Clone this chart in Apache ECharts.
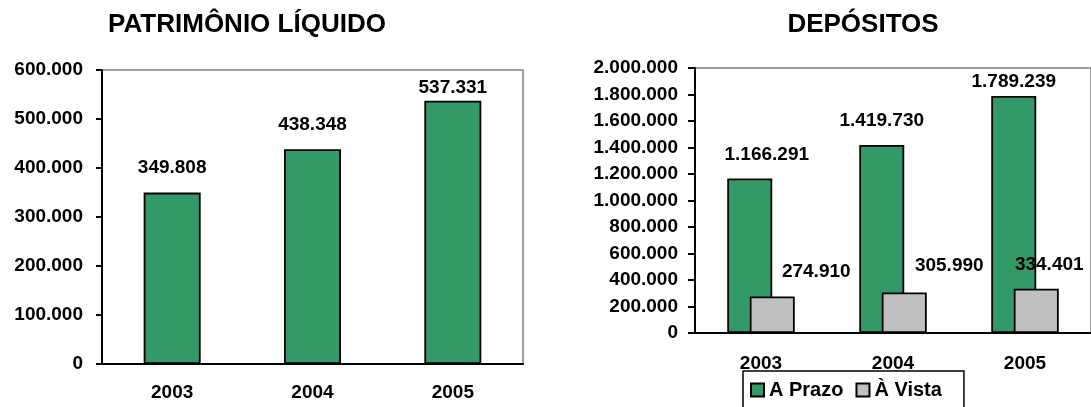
<!DOCTYPE html>
<html>
<head>
<meta charset="utf-8">
<script src="https://cdn.jsdelivr.net/npm/echarts@6/dist/echarts.min.js"></script>
<style>
html,body{margin:0;padding:0;background:#fff;}
#chart{width:1091px;height:407px;}
</style>
</head>
<body>
<div id="chart"></div>
<script>
// ---- data ----
const years = ['2003', '2004', '2005'];
const patrimonio = [349808, 438348, 537331];
const aPrazo = [1166291, 1419730, 1789239];
const aVista = [274910, 305990, 334401];
const seriesNames = ['A Prazo', 'À Vista'];
const titles = ['PATRIMÔNIO LÍQUIDO', 'DEPÓSITOS'];

// ---- label placement (layout only) ----
const patDist = [15, 15, 3];
const prazoDist = [14, 15, 5];
const prazoDx = [17, 0, 0];
const vistaDist = [15, 17, 14];
const vistaDx = [44, 45, 13];

const FONT = 'Liberation Sans';
function fmt(v) {
  return String(Math.round(v)).replace(/\B(?=(\d{3})+(?!\d))/g, '.');
}
function withLabels(vals, dist, dx) {
  return vals.map((v, i) => ({
    value: v,
    label: { distance: dist[i], offset: [dx ? dx[i] : 0, 0] }
  }));
}
const labelBase = {
  show: true, position: 'top', color: '#000',
  fontFamily: FONT, fontWeight: 'bold', fontSize: 19,
  formatter: p => fmt(p.value)
};
const axisText = { color: '#000', fontFamily: FONT, fontWeight: 'bold', fontSize: 19 };
const blackLine = { color: '#000', width: 2 };

const chart = echarts.init(document.getElementById('chart'));
chart.setOption({
  animation: false,
  backgroundColor: '#fff',
  title: [
    { text: titles[0], left: 247, top: 12, padding: 0, textAlign: 'center',
      textStyle: { fontFamily: FONT, fontWeight: 'bold', fontSize: 26, color: '#000' } },
    { text: titles[1], left: 863, top: 12, padding: 0, textAlign: 'center',
      textStyle: { fontFamily: FONT, fontWeight: 'bold', fontSize: 26, color: '#000' } }
  ],
  legend: {
    data: seriesNames,
    left: 743, top: 371,
    orient: 'horizontal',
    icon: 'rect', itemWidth: 13, itemHeight: 13, itemGap: 12,
    borderColor: '#000', borderWidth: 1.5,
    padding: [9, 22, 30, 7],
    backgroundColor: '#fff',
    textStyle: { color: '#000', fontFamily: FONT, fontWeight: 'bold', fontSize: 20 }
  },
  grid: [
    { left: 102, top: 70, width: 421, height: 294, show: true,
      borderColor: '#808080', borderWidth: 1.5, backgroundColor: 'transparent' },
    { left: 695, top: 68, width: 402, height: 265, show: true,
      borderColor: '#808080', borderWidth: 1.5, backgroundColor: 'transparent' }
  ],
  xAxis: [
    { type: 'category', gridIndex: 0, data: years, boundaryGap: true,
      axisLine: { lineStyle: blackLine },
      axisTick: { length: 7, lineStyle: blackLine },
      axisLabel: Object.assign({ margin: 19 }, axisText) },
    { type: 'category', gridIndex: 1, data: years, boundaryGap: true,
      axisLine: { lineStyle: blackLine },
      axisTick: { length: 7, lineStyle: blackLine },
      axisLabel: Object.assign({ margin: 21 }, axisText) }
  ],
  yAxis: [
    { type: 'value', gridIndex: 0, min: 0, max: 600000, interval: 100000,
      splitLine: { show: false },
      axisLine: { show: true, lineStyle: blackLine },
      axisTick: { show: true, length: 6, lineStyle: blackLine },
      axisLabel: Object.assign({ margin: 19, formatter: fmt }, axisText) },
    { type: 'value', gridIndex: 1, min: 0, max: 2000000, interval: 200000,
      splitLine: { show: false },
      axisLine: { show: true, lineStyle: blackLine },
      axisTick: { show: true, length: 7, lineStyle: blackLine },
      axisLabel: Object.assign({ margin: 17, formatter: fmt }, axisText) }
  ],
  series: [
    { type: 'bar', name: 'Patrimônio Líquido', xAxisIndex: 0, yAxisIndex: 0,
      barWidth: 57,
      itemStyle: { color: '#339966', borderColor: '#000', borderWidth: 1.8 },
      label: labelBase,
      data: withLabels(patrimonio, patDist) },
    { type: 'bar', name: seriesNames[0], xAxisIndex: 1, yAxisIndex: 1,
      barWidth: 45, barGap: '-50%',
      itemStyle: { color: '#339966', borderColor: '#000', borderWidth: 1.8 },
      label: labelBase, z: 2,
      data: withLabels(aPrazo, prazoDist, prazoDx) },
    { type: 'bar', name: seriesNames[1], xAxisIndex: 1, yAxisIndex: 1,
      barWidth: 45, barGap: '-50%',
      itemStyle: { color: '#C0C0C0', borderColor: '#000', borderWidth: 1.8 },
      label: labelBase, z: 3,
      data: withLabels(aVista, vistaDist, vistaDx) }
  ]
});
</script>
</body>
</html>
